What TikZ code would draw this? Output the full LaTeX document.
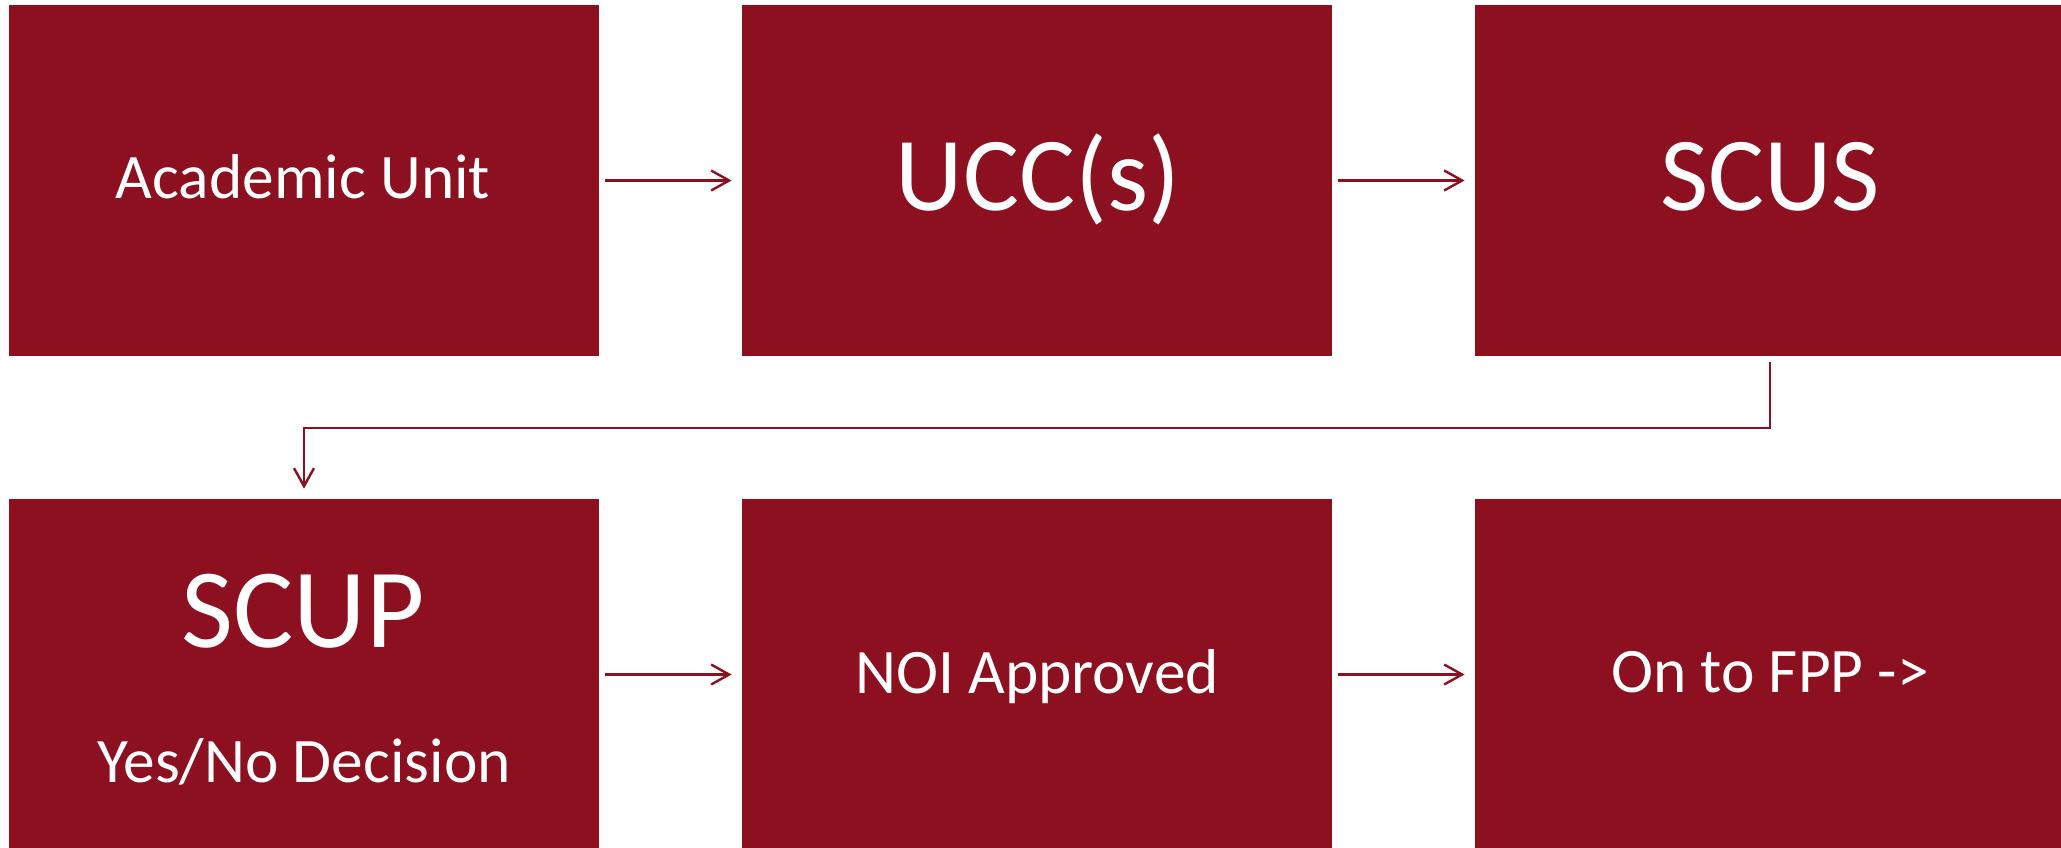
\documentclass[tikz,border=0pt]{standalone}
\usepackage{fontspec}
\setmainfont{Carlito}
\usepackage{tikz}
\usetikzlibrary{arrows.meta, positioning, calc}
\definecolor{maroonbox}{HTML}{8C101F}

\begin{document}
\begin{tikzpicture}[x=0.5pt, y=-0.5pt, >={Straight Barb[length=9pt, width=10pt]}]
    \tikzstyle{stage} = [rectangle, fill=maroonbox, inner sep=0pt, minimum width=295pt, minimum height=175.5pt]
    \tikzstyle{smalltxt} = [text=white, anchor=base, inner sep=0pt, font=\fontsize{31.7}{38}\selectfont]
    \tikzstyle{bigtxt} = [text=white, anchor=base, inner sep=0pt, font=\fontsize{52.5}{62}\selectfont]
    \tikzstyle{flow} = [->, draw=maroonbox, line width=1.2pt, shorten <=3pt, shorten >=5pt]

    \useasboundingbox (0,0) rectangle (2061,847);

    % top row
    \node (academic) [stage] at (304, 180.5) {};
    \node (ucc)      [stage] at (1037, 180.5) {};
    \node (scus)     [stage] at (1770, 180.5) {};

    % bottom row
    \node (scup) [stage] at (304, 674.5) {};
    \node (noi)  [stage] at (1037, 674.5) {};
    \node (fpp)  [stage] at (1770, 674.5) {};

    % texts
    \node (academiclbl) [smalltxt] at (303, 198) {Academic Unit};
    \node (ucclbl)      [bigtxt]   at (1038, 210) {UCC(s)};
    \node (scuslbl)     [bigtxt]   at (1770, 210) {SCUS};
    \node (scuplbl)     [bigtxt, font=\fontsize{56.5}{66}\selectfont] at (303, 647) {SCUP};
    \node (decisionlbl) [smalltxt] at (304, 782) {Yes/No Decision};
    \node (noilbl)      [smalltxt] at (1037, 693) {NOI Approved};
    \node (fpplbl)      [smalltxt] at (1770, 692) {On to FPP ->};

    % arrows along the rows
    \draw [flow] (academic.east) -- (ucc.west);
    \draw [flow] (ucc.east) -- (scus.west);
    \draw [flow] (scup.east) -- (noi.west);
    \draw [flow] (noi.east) -- (fpp.west);

    % SCUS -> SCUP, back to the left
    \coordinate (turn) at (1000, 428);
    \draw [flow] (scus.south) |- (turn) -| (scup.north);
\end{tikzpicture}
\end{document}
